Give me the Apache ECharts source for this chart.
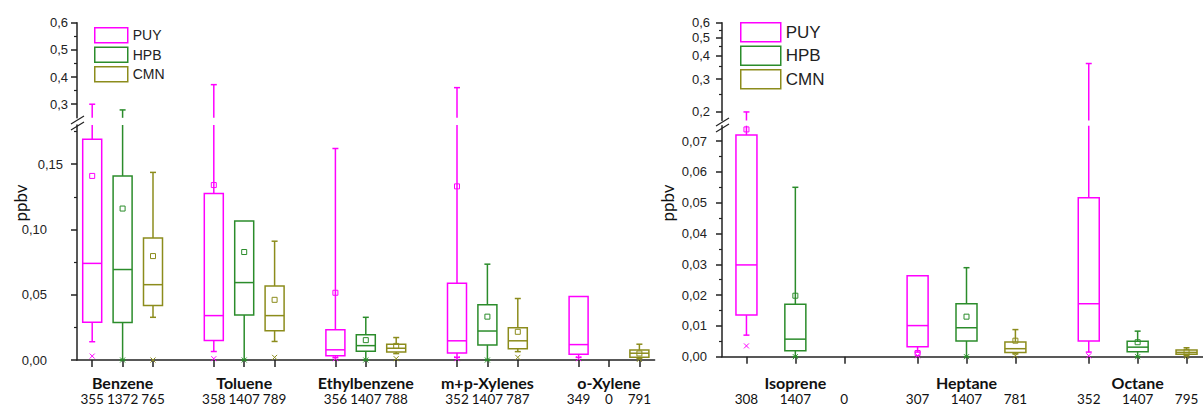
<!DOCTYPE html>
<html><head><meta charset="utf-8">
<script src="https://cdn.jsdelivr.net/npm/echarts@6/dist/echarts.min.js"></script>
<style>html,body{margin:0;padding:0;background:#fff}#c{width:1203px;height:407px}</style>
</head><body><div id="c"></div>
<script>
// ---------------- DATA ----------------
const sites = ['PUY', 'HPB', 'CMN'];
const siteColors = ['#ff00ff', '#2b8c2b', '#8c8c1c'];

// VOC panel (left). Each row: [whiskerLow, Q1, median, Q3, whiskerHigh, mean, min]
const vocCompounds = ['Benzene', 'Toluene', 'Ethylbenzene', 'm+p-Xylenes', 'o-Xylene'];
const vocCounts = [[355, 1372, 765], [358, 1407, 789], [356, 1407, 788], [352, 1407, 787], [349, 0, 791]];
const vocPUY = [
  [0.014, 0.029, 0.074, 0.169, 0.30, 0.141, 0.003],
  [0.0065, 0.015, 0.034, 0.1275, 0.372, 0.134, 0.001],
  [0.0018, 0.0032, 0.0078, 0.0232, 0.162, 0.0515, 0.001],
  [0.002, 0.0054, 0.0147, 0.0587, 0.361, 0.133, 0.001],
  [0.002, 0.0044, 0.0118, 0.0487, 0.0487, null, 0.001]
];
const vocHPB = [
  [0, 0.0288, 0.0693, 0.141, 0.279, 0.116, 0],
  [0, 0.0345, 0.0593, 0.1064, 0.1064, 0.0827, 0],
  [0, 0.0067, 0.011, 0.0193, 0.0327, 0.0152, 0],
  [0, 0.0114, 0.0222, 0.0423, 0.0734, 0.0332, 0],
  null
];
const vocCMN = [
  [0.0327, 0.0417, 0.0577, 0.0935, 0.1437, 0.0796, 0],
  [0.0142, 0.0224, 0.034, 0.0567, 0.091, 0.0461, 0.002],
  [0.0049, 0.0062, 0.009, 0.0121, 0.0172, 0.0108, 0.001],
  [0.0064, 0.0087, 0.0147, 0.0247, 0.0471, 0.0216, 0.002],
  [0.001, 0.0021, 0.0052, 0.0077, 0.0121, 0.005, 0.0005]
];

// NMHC panel (right)
const nmhcCompounds = ['Isoprene', 'Heptane', 'Octane'];
const nmhcCounts = [[308, 1407, 0], [307, 1407, 781], [352, 1407, 795]];
const nmhcPUY = [
  [0.007, 0.0135, 0.0298, 0.072, 0.20, 0.0738, 0.0035],
  [0.0015, 0.0032, 0.0101, 0.0263, 0.0263, 0.0012, 0.0003],
  [0.0015, 0.0051, 0.0172, 0.0516, 0.363, null, 0.0003]
];
const nmhcHPB = [
  [0, 0.0019, 0.0057, 0.017, 0.055, 0.0198, 0],
  [0, 0.0051, 0.0094, 0.0172, 0.0289, 0.013, 0],
  [0, 0.0016, 0.0031, 0.005, 0.0083, 0.0047, 0]
];
const nmhcCMN = [
  null,
  [0.0009, 0.0014, 0.0026, 0.0048, 0.0088, 0.0052, 0.0003],
  [0.0003, 0.0008, 0.0014, 0.0022, 0.0029, 0.0016, 0.0001]
];

// tick labels
const vocUpperTicks = [0.3, 0.4, 0.5, 0.6];
const vocUpperMinor = [0.35, 0.45, 0.55];
const vocLowerTicks = [0, 0.05, 0.10, 0.15];
const vocLowerMinor = [0.025, 0.075, 0.125, 0.175];
const nmhcUpperTicks = [0.2, 0.3, 0.4, 0.5, 0.6];
const nmhcUpperMinor = [0.25, 0.35, 0.45, 0.55];
const nmhcLowerTicks = [0, 0.01, 0.02, 0.03, 0.04, 0.05, 0.06, 0.07];
const nmhcLowerMinor = [0.005, 0.015, 0.025, 0.035, 0.045, 0.055, 0.065];

// ---------------- LAYOUT ----------------
const panels = [
  {
    compounds: vocCompounds, counts: vocCounts, data: [vocPUY, vocHPB, vocCMN],
    step: 4, xMin: -0.5, xMax: 18.5, left: 77, width: 577.6, boxW: 19,
    nameMargin: 14, countMargin: 32, nameSize: 16, countSize: 13.5,
    segs: [
      { top: 22.7, height: 95.1, type: 'value', min: 0.25, max: 0.6, ticks: vocUpperTicks, minor: vocUpperMinor, dec: 1, margin: 9 },
      { top: 125, height: 235, type: 'value', min: 0, max: 0.18, ticks: vocLowerTicks, minor: vocLowerMinor, dec: 2, margin: 14, padFn: v => v < 0.12 }
    ],
    legend: { left: 89, top: 22, w: 33, h: 15, gap: 3, font: 14 },
    name: { x: 20, y: 203 },
    brk: 77, brkY: [120, 126]
  },
  {
    compounds: nmhcCompounds, counts: nmhcCounts, data: [nmhcPUY, nmhcHPB, nmhcCMN],
    step: 3.5, xMin: -0.5, xMax: 9.5, left: 722, width: 489, boxW: 21,
    nameMargin: 17.5, countMargin: 35, nameSize: 16, countSize: 13.5,
    segs: [
      { top: 22.7, height: 97.8, type: 'log', min: 0.18, max: 0.6, ticks: nmhcUpperTicks, minor: nmhcUpperMinor, dec: 1, margin: 12 },
      { top: 125.7, height: 231, type: 'value', min: 0, max: 0.075, ticks: nmhcLowerTicks, minor: nmhcLowerMinor, dec: 2, margin: 15 }
    ],
    legend: { left: 735, top: 17, w: 40, h: 19, gap: 3, font: 17 },
    name: { x: 667, y: 203 },
    brk: 722, brkY: [122, 128]
  }
];

const AX = '#222';
const fmtComma = (v, d) => Number(v).toFixed(d).replace('.', ',');

function makeRenderer(color, boxW, yMin, yMax) {
  return function (params, api) {
    const cs = params.coordSys;
    const top = cs.y, bot = cs.y + cs.height;
    const val = k => { const t = api.value(k); return (t === null || t === undefined || t === '-' || isNaN(t)) ? null : +t; };
    const pos = val(0);
    const low = val(1), q1 = val(2), med = val(3), q3 = val(4), high = val(5), mean = val(6), mn = val(7);
    const cx = api.coord([pos, yMin])[0];
    const Y = t => t <= yMin ? bot : (t >= yMax ? top : api.coord([pos, t])[1]);
    const inR = t => t !== null && t >= yMin && t <= yMax;
    const st = { stroke: color, lineWidth: 1.5, fill: 'none' };
    const thin = { stroke: color, lineWidth: 1, fill: 'none' };
    const ch = [];
    const line = (x1, y1, x2, y2, s) => ch.push({ type: 'line', shape: { x1, y1, x2, y2 }, style: s || st });
    if (high !== null && q3 !== null) { const a = Y(high), b = Y(q3); if (b - a > 0.5) line(cx, a, cx, b); }
    if (low !== null && q1 !== null) { const a = Y(q1), b = Y(low); if (b - a > 0.5) line(cx, a, cx, b); }
    const capW = 3;
    if (inR(high) && high > q3) line(cx - capW, Y(high), cx + capW, Y(high));
    if (inR(low) && low < q1) line(cx - capW, Y(low), cx + capW, Y(low));
    if (q1 !== null && q3 !== null) {
      const a = Y(q3), b = Y(q1);
      if (b - a > 0.5) ch.push({ type: 'rect', shape: { x: cx - boxW / 2, y: a, width: boxW, height: b - a }, style: st });
    }
    if (inR(med)) line(cx - boxW / 2, Y(med), cx + boxW / 2, Y(med));
    if (inR(mean)) { const y = Y(mean); ch.push({ type: 'rect', shape: { x: cx - 2.5, y: y - 2.5, width: 5, height: 5 }, style: thin }); }
    if (inR(mn)) { const y = Y(mn), d = 2.5; line(cx - d, y - d, cx + d, y + d, thin); line(cx - d, y + d, cx + d, y - d, thin); }
    return { type: 'group', children: ch };
  };
}

const grid = [], xAxis = [], yAxis = [], series = [], legend = [], graphic = [];

panels.forEach((P, pi) => {
  const sitePos = [], countLabel = {}, groupPos = [], nameLabel = {};
  P.compounds.forEach((c, g) => {
    sites.forEach((s, j) => {
      const p = g * P.step + j;
      sitePos.push(p);
      countLabel[p.toFixed(3)] = String(P.counts[g][j]);
      if (j === 1) { groupPos.push(p); nameLabel[p.toFixed(3)] = c; }
    });
  });
  P.segs.forEach((S, si) => {
    const gi = pi * 2 + si;
    const isLower = si === 1;
    grid.push({ left: P.left, top: S.top, width: P.width, height: S.height, containLabel: false, outerBoundsMode: 'none' });
    const xIdx = xAxis.length;
    xAxis.push({
      type: 'value', gridIndex: gi, min: P.xMin, max: P.xMax, show: isLower, position: 'bottom',
      axisLine: { show: true, onZero: false, lineStyle: { color: AX, width: 1.5 } },
      axisTick: { show: true, customValues: sitePos, length: 7, lineStyle: { color: AX, width: 1.5 } },
      axisLabel: {
        show: true, customValues: sitePos, margin: P.countMargin,
        fontFamily: 'Lato', fontSize: P.countSize, lineHeight: 14, color: '#111',
        formatter: v => countLabel[Number(v).toFixed(3)] || ''
      },
      splitLine: { show: false }
    });
    if (isLower) {
      xAxis.push({
        type: 'value', gridIndex: gi, min: P.xMin, max: P.xMax, position: 'bottom', offset: 0,
        axisLine: { show: false, onZero: false },
        axisTick: { show: false },
        axisLabel: {
          show: true, customValues: groupPos, margin: P.nameMargin,
          fontFamily: 'Lato', fontWeight: 'bold', fontSize: P.nameSize, lineHeight: 17, color: '#111',
          formatter: v => nameLabel[Number(v).toFixed(3)] || ''
        },
        splitLine: { show: false }
      });
    }
    const common = { gridIndex: gi, type: S.type, min: S.min, max: S.max, position: 'left', offset: 0, splitLine: { show: false } };
    if (S.type === 'log') common.logBase = 10;
    const yIdx = yAxis.length;
    yAxis.push(Object.assign({}, common, {
      axisLine: { show: true, onZero: false, lineStyle: { color: AX, width: 1.5 } },
      axisTick: { show: true, customValues: S.ticks, length: 6, lineStyle: { color: AX, width: 1.5 } },
      axisLabel: {
        show: true, customValues: S.ticks, margin: S.margin,
        showMinLabel: true, showMaxLabel: true,
        fontFamily: 'Liberation Sans', fontSize: 13, color: '#222',
        formatter: v => S.padFn && S.padFn(v) ? '{p|' + fmtComma(v, S.dec) + '}' : fmtComma(v, S.dec),
        rich: { p: { fontFamily: 'Liberation Sans', fontSize: 13, color: '#222', padding: [0, 16, 0, 0] } }
      }
    }));
    yAxis.push(Object.assign({}, common, {
      axisLine: { show: false, onZero: false },
      axisTick: { show: true, customValues: S.minor, length: 3, lineStyle: { color: AX, width: 1.2 } },
      axisLabel: { show: false }
    }));
    sites.forEach((s, j) => {
      const data = [];
      P.compounds.forEach((c, g) => {
        const row = P.data[j][g];
        if (row) data.push([g * P.step + j].concat(row));
      });
      series.push({
        type: 'custom', name: s, xAxisIndex: xIdx, yAxisIndex: yIdx,
        encode: { x: 0, y: 5 }, silent: true,
        itemStyle: { color: siteColors[j] },
        renderItem: makeRenderer(siteColors[j], P.boxW, S.min, S.max),
        data: data
      });
    });
  });
  legend.push({
    orient: 'vertical', left: P.legend.left, top: P.legend.top,
    itemWidth: P.legend.w, itemHeight: P.legend.h, itemGap: P.legend.gap, icon: 'rect',
    selectedMode: false,
    textStyle: { fontFamily: 'Liberation Sans', fontSize: P.legend.font, color: '#222', padding: [0, 0, 0, 0] },
    data: sites.map((s, j) => ({ name: s, itemStyle: { color: 'rgba(0,0,0,0)', borderColor: siteColors[j], borderWidth: 1.5 } }))
  });
  graphic.push({
    type: 'text', x: P.name.x, y: P.name.y, rotation: Math.PI / 2,
    style: { text: 'ppbv', font: '17px Lato', fill: '#111', textAlign: 'center', textVerticalAlign: 'middle' }
  });
  P.brkY.forEach(yc => {
    graphic.push({ type: 'line', shape: { x1: P.brk - 6, y1: yc + 4, x2: P.brk + 7, y2: yc - 4 }, style: { stroke: AX, lineWidth: 1.3 } });
  });
});

const chart = echarts.init(document.getElementById('c'), null, { renderer: 'svg' });
chart.setOption({
  backgroundColor: '#fff', animation: false,
  grid, xAxis, yAxis, series, legend, graphic
});
</script></body></html>
